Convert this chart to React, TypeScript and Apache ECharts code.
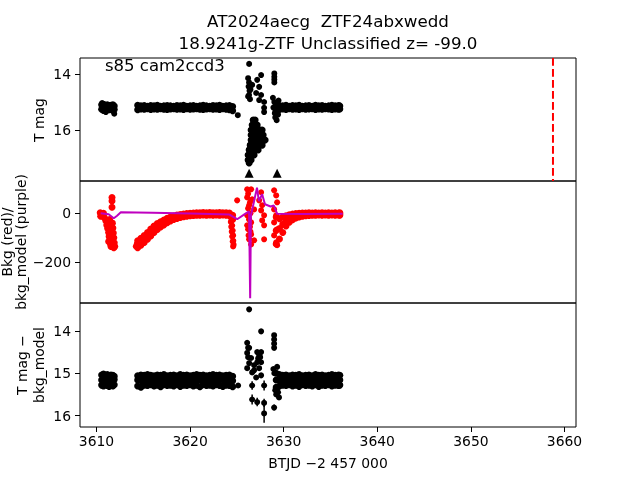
import React, { useEffect, useRef } from "react";
import * as echarts from "echarts";

// ---------- time grids (BTJD) ----------
const T_SEG1 = [3610.55, 3610.75, 3610.95, 3611.15, 3611.35, 3611.55, 3611.75, 3611.9];
const T_SEG2 = [3614.4, 3614.75, 3615.1, 3615.45, 3615.8, 3616.15, 3616.5, 3616.85, 3617.2, 3617.55, 3617.9, 3618.25, 3618.6, 3618.95, 3619.3, 3619.65, 3620.0, 3620.35, 3620.7, 3621.05, 3621.4, 3621.75, 3622.1, 3622.45, 3622.8, 3623.15, 3623.5, 3623.85, 3624.2, 3624.55];
const T_SEG3 = [3629.2, 3629.55, 3629.9, 3630.25, 3630.6, 3630.95, 3631.3, 3631.65, 3632.0, 3632.35, 3632.7, 3633.05, 3633.4, 3633.75, 3634.1, 3634.45, 3634.8, 3635.15, 3635.5, 3635.85, 3636.0];

// ---------- panel 1: T mag ----------
const P1_SEG1_HI = [15.1, 15.08, 15.12, 15.1, 15.13, 15.12, 15.1, 15.14];
const P1_SEG1_LO = [15.26, 15.3, 15.27, 15.25, 15.28, 15.26, 15.3, 15.27];
const P1_SEG2_HI = [15.12, 15.14, 15.13, 15.15, 15.13, 15.14, 15.12, 15.15, 15.14, 15.13, 15.14, 15.15, 15.13, 15.14, 15.12, 15.15, 15.14, 15.13, 15.15, 15.14, 15.12, 15.14, 15.15, 15.13, 15.14, 15.12, 15.15, 15.14, 15.13, 15.16];
const P1_SEG2_LO = [15.28, 15.25, 15.26, 15.24, 15.27, 15.25, 15.26, 15.24, 15.26, 15.27, 15.25, 15.24, 15.26, 15.25, 15.27, 15.24, 15.26, 15.25, 15.24, 15.26, 15.27, 15.25, 15.24, 15.26, 15.25, 15.27, 15.24, 15.26, 15.28, 15.31];
const P1_SEG3_HI = [15.1, 15.13, 15.14, 15.12, 15.15, 15.13, 15.14, 15.12, 15.15, 15.14, 15.13, 15.15, 15.12, 15.14, 15.13, 15.15, 15.14, 15.12, 15.14, 15.13, 15.14];
const P1_SEG3_LO = [15.3, 15.27, 15.25, 15.27, 15.24, 15.26, 15.25, 15.27, 15.24, 15.26, 15.25, 15.24, 15.27, 15.25, 15.26, 15.24, 15.25, 15.27, 15.25, 15.26, 15.25];
const P1_EXTRA = [
  [3611.9, 15.42], [3610.6, 15.04], [3611.0, 15.36], [3625.1, 15.47],
  [3626.31, 13.64], [3626.2, 14.15], [3626.3, 14.3], [3626.25, 14.45], [3626.35, 14.6], [3626.3, 14.75], [3626.4, 14.9], [3626.2, 14.8], [3626.45, 14.55],
  [3627.59, 14.04], [3627.17, 14.21], [3626.63, 14.39], [3627.38, 14.46], [3627.06, 14.68], [3627.59, 14.75], [3627.38, 14.93], [3627.91, 15.0], [3627.91, 15.21], [3627.91, 15.36],
  [3629.0, 13.98], [3629.0, 14.1], [3629.0, 14.2], [3629.0, 14.3],
  [3628.85, 14.85], [3629.0, 15.0], [3629.05, 15.4], [3629.1, 15.55], [3629.25, 15.65], [3629.4, 15.45], [3629.45, 14.95], [3629.3, 15.35], [3628.9, 15.2],
];
const P1_BLOB = [
  [3626.74, 15.64], [3626.95, 15.64],
  [3626.63, 15.82], [3626.95, 15.82], [3627.17, 15.82],
  [3626.52, 16.0], [3626.84, 16.0], [3627.17, 16.0], [3627.49, 16.0], [3627.7, 16.0],
  [3626.52, 16.18], [3626.84, 16.18], [3627.17, 16.18], [3627.49, 16.18], [3627.81, 16.18],
  [3626.52, 16.36], [3626.84, 16.36], [3627.17, 16.36], [3627.49, 16.36], [3627.81, 16.36], [3628.02, 16.36],
  [3626.42, 16.54], [3626.74, 16.54], [3627.06, 16.54], [3627.38, 16.54], [3627.7, 16.54],
  [3626.31, 16.71], [3626.63, 16.71], [3626.95, 16.71], [3627.27, 16.71],
  [3626.2, 16.89], [3626.52, 16.89], [3626.84, 16.89],
  [3626.2, 17.07], [3626.52, 17.07],
  [3626.31, 17.18],
];
const P1_LIMITS = [[3626.31, 17.54], [3629.3, 17.54]];
const EVENT_T = 3658.77;

// ---------- panel 2: background (red) / model (purple) ----------
const P2_SEG1 = [
  [3610.4, 2], [3610.55, -3], [3610.7, -8], [3610.85, -18], [3610.45, -12], [3610.75, 0],
  [3611.0, -30], [3611.1, -48], [3611.2, -62], [3611.3, -78], [3611.35, -95], [3611.45, -110], [3611.5, -125], [3611.55, -135],
  [3611.7, -40], [3611.75, -60], [3611.8, -80], [3611.85, -100], [3611.9, -120], [3611.95, -135],
  [3611.4, -25], [3611.6, -50], [3611.65, -75], [3611.7, -100], [3611.75, -125], [3611.85, -140], [3611.5, -90], [3611.3, -115], [3611.6, -130],
  [3611.66, 65], [3611.66, 50], [3611.66, 25],
];
const P2_SEG2_HI = [-112, -102, -91, -78, -64, -52, -42, -34, -27, -20, -15, -11, -7, -5, -3, -1, 0, 1, 2, 2, 3, 2, 3, 2, 2, 3, 2, 2, 1, -8];
const P2_SEG2_LO = [-140, -130, -119, -106, -92, -78, -66, -56, -47, -38, -31, -25, -21, -17, -14, -12, -10, -9, -8, -8, -7, -8, -7, -8, -7, -8, -7, -8, -9, -25];
const P2_SEG3_HI = [-15, -22, -15, -10, -6, -3, -1, 0, 1, 1, 2, 1, 2, 1, 2, 1, 2, 1, 2, 1, 2];
const P2_SEG3_MID = [-70, -62, -45, -30, -20, -14, -10, -7, -5, -4, -3, -4, -3, -4, -3, -4, -3, -4, -3, -4, -3];
const P2_SEG3_LO = [-125, -105, -78, -52, -36, -26, -19, -15, -12, -10, -9, -8, -8, -7, -8, -7, -8, -7, -8, -7, -8];
const P2_EXTRA = [
  [3614.2, -135], [3614.3, -125],
  [3624.3, -15], [3624.35, -35], [3624.4, -55], [3624.45, -75], [3624.5, -95], [3624.55, -115], [3624.6, -135],
  [3624.45, -25], [3624.5, -50], [3624.55, -70], [3624.6, -90], [3624.62, -112], [3624.65, -128],
  [3625.03, 53],
  [3626.1, 98], [3626.52, 98], [3626.1, 65], [3626.63, 57], [3626.31, 33], [3626.84, 16], [3626.1, -8], [3626.52, -37], [3626.1, -49], [3626.2, -65], [3626.52, -86], [3626.31, -106], [3626.84, -110], [3626.52, -127],
  [3626.2, 80], [3626.4, 45], [3626.2, 20], [3626.45, 0], [3626.3, -25], [3626.4, -55], [3626.25, -90], [3626.45, -75],
  [3627.59, 86], [3627.38, 53], [3627.7, 33], [3627.59, 12], [3627.91, -8], [3627.7, -29], [3627.91, -49], [3627.91, -106],
  [3628.98, 94], [3629.2, 73], [3629.3, 45], [3628.98, 16], [3629.2, -8], [3628.98, -37], [3629.3, -65], [3628.98, -90], [3629.2, -118], [3629.3, -130],
];
const P2_MODEL = [
  [3610.45, 0], [3611.3, -4], [3611.85, -20], [3612.2, -10], [3612.6, 4], [3616.0, 2], [3620.0, -1], [3624.2, -5],
  [3625.03, -24], [3625.8, -4], [3626.3, 8], [3626.42, -347], [3626.5, -10], [3627.15, 105], [3627.35, 50], [3627.7, 78],
  [3628.0, 37], [3628.6, 28], [3628.95, 32], [3629.3, -2], [3632.0, -3], [3636.3, -2],
];

// ---------- panel 3: T mag - bkg_model ----------
const P3_SEG1_A = [15.04, 15.02, 15.05, 15.03, 15.06, 15.04, 15.05, 15.07];
const P3_SEG1_B = [15.16, 15.17, 15.15, 15.16, 15.18, 15.16, 15.17, 15.15];
const P3_SEG1_C = [15.28, 15.3, 15.27, 15.29, 15.31, 15.28, 15.3, 15.27];
const P3_SEG2_A = [15.06, 15.04, 15.05, 15.03, 15.05, 15.06, 15.04, 15.05, 15.03, 15.06, 15.05, 15.04, 15.06, 15.03, 15.05, 15.04, 15.06, 15.05, 15.03, 15.05, 15.04, 15.06, 15.05, 15.03, 15.05, 15.04, 15.06, 15.05, 15.04, 15.07];
const P3_SEG2_B = [15.16, 15.17, 15.15, 15.16, 15.17, 15.16, 15.15, 15.17, 15.16, 15.15, 15.17, 15.16, 15.15, 15.16, 15.17, 15.15, 15.16, 15.17, 15.16, 15.15, 15.16, 15.17, 15.15, 15.16, 15.17, 15.16, 15.15, 15.16, 15.17, 15.18];
const P3_SEG2_C = [15.3, 15.33, 15.28, 15.29, 15.27, 15.3, 15.28, 15.32, 15.27, 15.29, 15.28, 15.3, 15.27, 15.31, 15.28, 15.29, 15.27, 15.3, 15.28, 15.32, 15.27, 15.29, 15.28, 15.3, 15.27, 15.29, 15.31, 15.28, 15.29, 15.32];
const P3_SEG3_A = [15.0, 15.03, 15.05, 15.04, 15.06, 15.04, 15.05, 15.03, 15.06, 15.05, 15.04, 15.06, 15.03, 15.05, 15.04, 15.06, 15.05, 15.03, 15.05, 15.04, 15.05];
const P3_SEG3_B = [15.16, 15.17, 15.15, 15.16, 15.17, 15.16, 15.15, 15.17, 15.16, 15.15, 15.17, 15.16, 15.15, 15.16, 15.17, 15.15, 15.16, 15.17, 15.16, 15.15, 15.16];
const P3_SEG3_C = [15.33, 15.3, 15.28, 15.29, 15.27, 15.3, 15.28, 15.31, 15.27, 15.29, 15.28, 15.3, 15.27, 15.31, 15.28, 15.29, 15.27, 15.3, 15.28, 15.29, 15.28];
const P3_EXTRA = [
  [3625.13, 15.29],
  [3626.31, 13.49], [3627.59, 14.01], [3628.98, 14.1], [3628.98, 14.2], [3628.98, 14.3], [3628.98, 14.4],
  [3626.1, 14.28], [3626.31, 14.4], [3626.1, 14.52], [3626.52, 14.64], [3626.31, 14.76], [3626.84, 14.81], [3627.17, 14.5], [3627.38, 14.57],
  [3627.59, 14.5], [3627.17, 14.74], [3627.59, 14.74], [3626.84, 14.93], [3627.38, 14.88], [3627.59, 15.05], [3627.06, 15.1], [3626.63, 14.98],
  [3626.1, 14.88], [3626.2, 14.4], [3626.2, 14.62], [3627.27, 14.65], [3627.49, 14.62],
  [3628.9, 14.9], [3629.0, 15.0], [3629.1, 15.4], [3629.2, 15.5], [3629.3, 14.85], [3629.4, 15.45], [3629.5, 15.57], [3629.35, 15.35],
];
const P3_ERR = [
  [3626.63, 15.29, 0.1], [3626.63, 15.62, 0.12], [3627.17, 15.68, 0.1], [3627.91, 15.29, 0.12],
  [3627.91, 15.7, 0.1], [3627.91, 15.95, 0.22], [3628.98, 15.81, 0.07],
];

// ---------- axes ----------
const X_MIN = 3608.24;
const X_MAX = 3661.23;
const X_TICKS = [3610, 3620, 3630, 3640, 3650, 3660];
const Y1_RANGE = [13.43, 17.82];
const Y1_TICKS = [14, 16];
const Y2_RANGE = [-366, 132];
const Y2_TICKS = [-200, 0];
const Y3_RANGE = [13.34, 16.27];
const Y3_TICKS = [14, 15, 16];

const FONT = "DejaVu Sans";
const zip = (t: number[], v: number[]) => t.map((x, i) => [x, v[i]]);
const minus = (v: number) => String(v).replace("-", "\u2212");

export default function App() {
  const ref = useRef<HTMLDivElement>(null);
  useEffect(() => {
    if (!ref.current) return;
    const chart = echarts.init(ref.current, null, { renderer: "svg" });
    const grids = [
      { left: 80, top: 58, width: 496, height: 123 },
      { left: 80, top: 181, width: 496, height: 122 },
      { left: 80, top: 303, width: 496, height: 124 },
    ].map((g) => ({ ...g, show: true, borderColor: "#000", borderWidth: 1, backgroundColor: "transparent" }));

    const xAxes = [0, 1, 2].map((i) => ({
      type: "value",
      gridIndex: i,
      min: X_MIN,
      max: X_MAX,
      splitLine: { show: false },
      axisLine: { show: false },
      axisTick: { show: i === 2, inside: false, length: 5, customValues: X_TICKS, lineStyle: { color: "#000" } },
      axisLabel: { show: i === 2, customValues: X_TICKS, margin: 7, color: "#000", fontSize: 13.9, fontFamily: FONT, formatter: (v: number) => String(v) },
    }));
    const yDef = (i: number, range: number[], ticks: number[], inverse: boolean) => ({
      type: "value",
      gridIndex: i,
      min: range[0],
      max: range[1],
      inverse,
      splitLine: { show: false },
      axisLine: { show: false },
      axisTick: { show: true, length: 5, customValues: ticks, lineStyle: { color: "#000" } },
      axisLabel: { customValues: ticks, margin: 9, color: "#000", fontSize: 13.9, fontFamily: FONT, formatter: minus },
    });
    const yAxes = [
      yDef(0, Y1_RANGE, Y1_TICKS, true),
      yDef(1, Y2_RANGE, Y2_TICKS, false),
      yDef(2, Y3_RANGE, Y3_TICKS, true),
    ];

    const dots = (i: number, data: number[][], color: string, size = 6) => ({
      type: "scatter",
      xAxisIndex: i,
      yAxisIndex: i,
      data,
      symbol: "circle",
      symbolSize: size,
      itemStyle: { color, opacity: 1 },
      silent: true,
    });
    const B = 7; // band dot size

    const series: any[] = [
      dots(0, zip(T_SEG1, P1_SEG1_HI), "#000", B),
      dots(0, zip(T_SEG1, P1_SEG1_LO), "#000", B),
      dots(0, zip(T_SEG2, P1_SEG2_HI), "#000", B),
      dots(0, zip(T_SEG2, P1_SEG2_LO), "#000", B),
      dots(0, zip(T_SEG3, P1_SEG3_HI), "#000", B),
      dots(0, zip(T_SEG3, P1_SEG3_LO), "#000", B),
      dots(0, P1_EXTRA, "#000"),
      dots(0, P1_BLOB, "#000", B),
      {
        type: "scatter", xAxisIndex: 0, yAxisIndex: 0, data: P1_LIMITS,
        symbol: "triangle", symbolSize: 9, itemStyle: { color: "#000", opacity: 1 }, silent: true,
      },
      {
        type: "line", xAxisIndex: 0, yAxisIndex: 0,
        data: [[EVENT_T, Y1_RANGE[0]], [EVENT_T, Y1_RANGE[1]]],
        symbol: "none", lineStyle: { color: "#ff0000", width: 2, type: [7.7, 3.3] }, silent: true,
      },
      dots(1, P2_SEG1, "#ff0000", B),
      dots(1, zip(T_SEG2, P2_SEG2_HI), "#ff0000", B),
      dots(1, zip(T_SEG2, P2_SEG2_LO), "#ff0000", B),
      dots(1, zip(T_SEG3, P2_SEG3_HI), "#ff0000", B),
      dots(1, zip(T_SEG3, P2_SEG3_MID), "#ff0000", B),
      dots(1, zip(T_SEG3, P2_SEG3_LO), "#ff0000", B),
      dots(1, P2_EXTRA, "#ff0000"),
      {
        type: "line", xAxisIndex: 1, yAxisIndex: 1, data: P2_MODEL, z: 5,
        symbol: "none", lineStyle: { color: "#bf00bf", width: 2 }, silent: true,
      },
      dots(2, zip(T_SEG1, P3_SEG1_A), "#000", B),
      dots(2, zip(T_SEG1, P3_SEG1_B), "#000", B),
      dots(2, zip(T_SEG1, P3_SEG1_C), "#000", B),
      dots(2, zip(T_SEG2, P3_SEG2_A), "#000", B),
      dots(2, zip(T_SEG2, P3_SEG2_B), "#000", B),
      dots(2, zip(T_SEG2, P3_SEG2_C), "#000", B),
      dots(2, zip(T_SEG3, P3_SEG3_A), "#000", B),
      dots(2, zip(T_SEG3, P3_SEG3_B), "#000", B),
      dots(2, zip(T_SEG3, P3_SEG3_C), "#000", B),
      dots(2, P3_EXTRA, "#000"),
      dots(2, P3_ERR.map((d) => [d[0], d[1]]), "#000"),
      {
        type: "custom", xAxisIndex: 2, yAxisIndex: 2, data: P3_ERR, silent: true,
        renderItem: (params: any, api: any) => {
          const t = api.value(0), m = api.value(1), e = api.value(2);
          const p1 = api.coord([t, m - e]);
          const p2 = api.coord([t, m + e]);
          return {
            type: "line",
            shape: { x1: p1[0], y1: p1[1], x2: p2[0], y2: p2[1] },
            style: { stroke: "#000", lineWidth: 1.5 },
          };
        },
      },
    ];

    const txt = (text: string, x: number, y: number, size: number, opts: any = {}) => ({
      type: "text",
      x, y,
      rotation: opts.rotation || 0,
      style: {
        text, fontSize: size, fontFamily: FONT, fill: "#000",
        align: opts.align || "center", verticalAlign: "middle",
      },
      silent: true,
    });
    const R = Math.PI / 2;

    chart.setOption({
      animation: false,
      textStyle: { fontFamily: FONT },
      grid: grids,
      xAxis: xAxes,
      yAxis: yAxes,
      series,
      graphic: [
        txt("AT2024aecg  ZTF24abxwedd", 328, 21, 16.7),
        txt("18.9241g-ZTF Unclassified z= -99.0", 328, 43, 16.7),
        txt("s85 cam2ccd3", 105, 65, 16.5, { align: "left" }),
        txt("T mag", 39, 120, 13.9, { rotation: R }),
        txt("Bkg (red)/", 7, 242, 13.9, { rotation: R }),
        txt("bkg_model (purple)", 21, 242, 13.9, { rotation: R }),
        txt("T mag \u2212", 22, 365, 13.9, { rotation: R }),
        txt("bkg_model", 39, 365, 13.9, { rotation: R }),
        txt("BTJD \u22122 457 000", 328, 463, 13.9),
      ],
    });
    return () => chart.dispose();
  }, []);
  return <div ref={ref} style={{ position: "fixed", left: 0, top: 0, width: 640, height: 480 }} />;
}
